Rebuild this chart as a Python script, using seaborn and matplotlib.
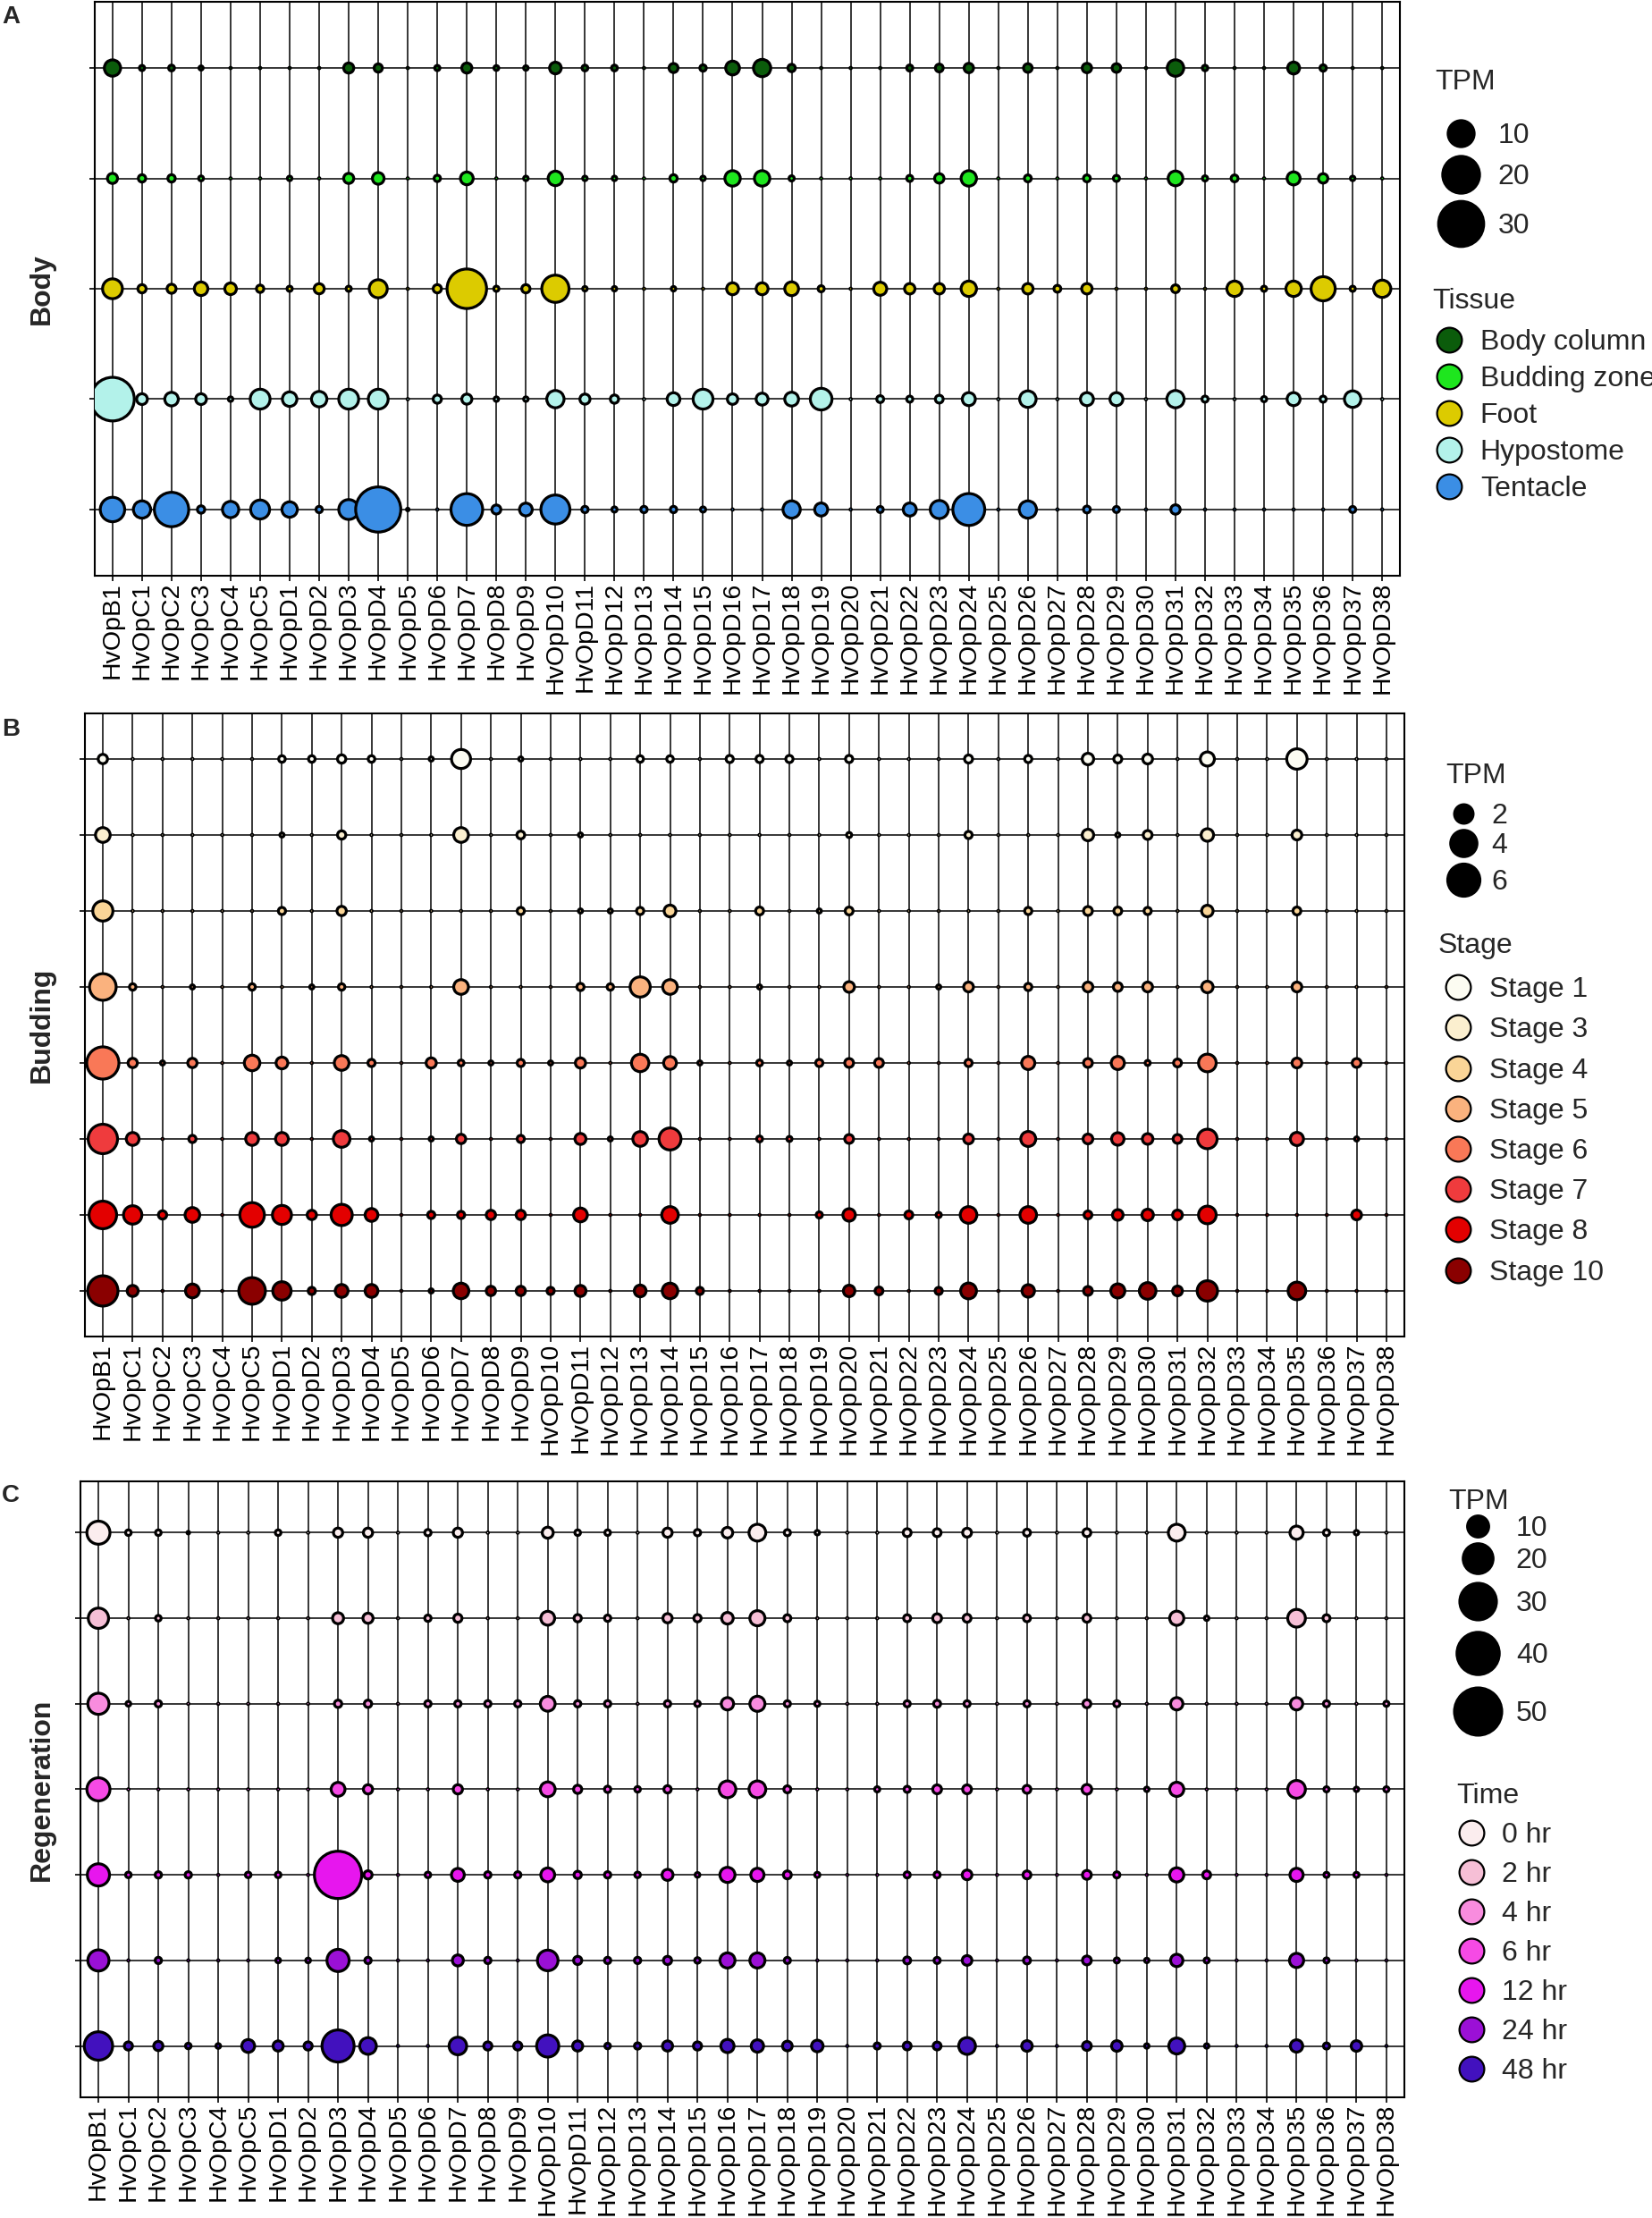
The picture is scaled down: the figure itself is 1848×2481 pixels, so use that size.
import numpy as np
import pandas as pd
import matplotlib
matplotlib.use("Agg")
import matplotlib.pyplot as plt
from matplotlib.lines import Line2D
import seaborn as sns

# ---------------- data ----------------
genes = ["HvOpB1", "HvOpC1", "HvOpC2", "HvOpC3", "HvOpC4", "HvOpC5",
         "HvOpD1", "HvOpD2", "HvOpD3", "HvOpD4", "HvOpD5", "HvOpD6", "HvOpD7", "HvOpD8",
         "HvOpD9", "HvOpD10", "HvOpD11", "HvOpD12", "HvOpD13", "HvOpD14", "HvOpD15",
         "HvOpD16", "HvOpD17", "HvOpD18", "HvOpD19", "HvOpD20", "HvOpD21", "HvOpD22",
         "HvOpD23", "HvOpD24", "HvOpD25", "HvOpD26", "HvOpD27", "HvOpD28", "HvOpD29",
         "HvOpD30", "HvOpD31", "HvOpD32", "HvOpD33", "HvOpD34", "HvOpD35", "HvOpD36",
         "HvOpD37", "HvOpD38"]

# Panel A: body tissues (TPM)
tissues = ["Body column", "Budding zone", "Foot", "Hypostome", "Tentacle"]
tissue_colors = ["#0B5C0B", "#1EE61E", "#DCCB00", "#B3F2EA", "#3B8EE5"]
tpm_body_column = [3.9, 0.4, 0.5, 0.25, 0.03, 0.03, 0.03, 0.03, 1.5, 1.0,
                   0.03, 0.4, 1.5, 0.35, 0.3, 2.0, 0.5, 0.5, 0.03, 1.2,
                   0.6, 2.8, 4.4, 0.8, 0.03, 0.03, 0.03, 0.55, 0.9, 1.3,
                   0.03, 1.1, 0.03, 1.3, 1.1, 0.03, 4.0, 0.45, 0.03, 0.03,
                   2.1, 0.6, 0.03, 0.03]
tpm_budding_zone = [1.5, 0.8, 0.8, 0.35, 0.03, 0.03, 0.3, 0.03, 1.5, 2.0,
                    0.03, 0.6, 2.4, 0.03, 0.3, 3.1, 0.3, 0.3, 0.03, 0.8,
                    0.3, 3.5, 3.5, 0.4, 0.03, 0.03, 0.03, 0.55, 1.3, 3.5,
                    0.03, 0.7, 0.03, 0.7, 0.55, 0.03, 3.2, 0.4, 0.7, 0.03,
                    2.5, 1.3, 0.3, 0.03]
tpm_foot = [5.8, 1.0, 1.2, 2.7, 2.0, 0.8, 0.4, 1.5, 0.4, 4.8,
            0.03, 1.0, 23.0, 0.4, 1.0, 10.9, 0.3, 0.3, 0.03, 0.3,
            0.03, 2.1, 2.1, 2.8, 0.55, 0.03, 2.5, 1.6, 1.6, 3.5,
            0.03, 1.6, 0.7, 1.6, 0.03, 0.03, 0.9, 0.03, 3.5, 0.4,
            3.5, 8.6, 0.4, 4.4]
tpm_hypostome = [28.0, 1.7, 2.7, 1.7, 0.3, 5.8, 3.1, 3.5, 5.8, 5.8,
                 0.03, 1.0, 1.5, 0.3, 0.3, 4.4, 1.5, 1.0, 0.03, 2.4,
                 5.8, 1.6, 2.1, 2.8, 6.9, 0.03, 0.7, 0.55, 0.9, 2.5,
                 0.03, 4.0, 0.03, 2.5, 2.5, 0.03, 4.4, 0.55, 0.03, 0.4,
                 2.5, 0.55, 4.0, 0.03]
tpm_tentacle = [8.8, 4.4, 17.4, 0.8, 3.9, 5.3, 3.5, 0.6, 5.8, 32.6,
                0.1, 0.03, 14.8, 1.2, 2.4, 12.4, 0.6, 0.4, 0.6, 0.6,
                0.4, 0.03, 0.03, 4.4, 2.5, 0.03, 0.55, 2.5, 4.8, 15.0,
                0.03, 4.4, 0.03, 0.7, 0.55, 0.03, 1.3, 0.03, 0.03, 0.03,
                0.03, 0.03, 0.55, 0.03]

# Panel B: budding stages (TPM)
stages = ["Stage 1", "Stage 3", "Stage 4", "Stage 5", "Stage 6", "Stage 7", "Stage 8", "Stage 10"]
stage_colors = ["#FCFCF2", "#FBEFCF", "#FAD597", "#FAB27E", "#F97857", "#EF3B3D", "#E30000", "#8A0000"]
tpm_stage1 = [0.5, 0.01, 0.01, 0.01, 0.01, 0.01, 0.25, 0.25, 0.4, 0.25,
              0.01, 0.1, 2.1, 0.01, 0.1, 0.01, 0.01, 0.01, 0.25, 0.25,
              0.01, 0.3, 0.3, 0.3, 0.01, 0.3, 0.01, 0.01, 0.01, 0.37,
              0.01, 0.3, 0.01, 0.76, 0.37, 0.55, 0.01, 1.15, 0.01, 0.01,
              2.4, 0.01, 0.01, 0.01]
tpm_stage3 = [1.25, 0.01, 0.01, 0.01, 0.01, 0.01, 0.1, 0.01, 0.4, 0.01,
              0.01, 0.01, 1.25, 0.01, 0.35, 0.01, 0.1, 0.01, 0.01, 0.01,
              0.01, 0.01, 0.01, 0.01, 0.01, 0.15, 0.01, 0.01, 0.01, 0.3,
              0.01, 0.01, 0.01, 0.76, 0.1, 0.45, 0.01, 0.9, 0.01, 0.01,
              0.55, 0.01, 0.01, 0.01]
tpm_stage4 = [2.35, 0.01, 0.01, 0.01, 0.01, 0.01, 0.3, 0.01, 0.5, 0.01,
              0.01, 0.01, 0.01, 0.01, 0.3, 0.01, 0.1, 0.1, 0.3, 0.8,
              0.01, 0.01, 0.36, 0.01, 0.1, 0.36, 0.01, 0.01, 0.01, 0.01,
              0.01, 0.3, 0.01, 0.45, 0.36, 0.3, 0.01, 0.76, 0.01, 0.01,
              0.36, 0.01, 0.01, 0.01]
tpm_stage5 = [4.1, 0.24, 0.01, 0.1, 0.01, 0.24, 0.01, 0.1, 0.24, 0.01,
              0.01, 0.01, 1.25, 0.01, 0.01, 0.01, 0.3, 0.24, 2.35, 1.25,
              0.01, 0.01, 0.1, 0.01, 0.01, 0.65, 0.01, 0.01, 0.1, 0.55,
              0.01, 0.3, 0.01, 0.55, 0.45, 0.55, 0.01, 0.76, 0.01, 0.01,
              0.55, 0.01, 0.01, 0.01]
tpm_stage6 = [6.3, 0.5, 0.1, 0.5, 0.01, 1.4, 0.8, 0.01, 1.25, 0.3,
              0.01, 0.6, 0.2, 0.1, 0.3, 0.1, 0.6, 0.01, 1.75, 0.95,
              0.1, 0.01, 0.2, 0.1, 0.3, 0.45, 0.45, 0.01, 0.01, 0.3,
              0.01, 1.0, 0.01, 0.45, 1.0, 0.15, 0.36, 1.8, 0.01, 0.01,
              0.55, 0.01, 0.45, 0.01]
tpm_stage7 = [5.0, 0.95, 0.01, 0.3, 0.01, 0.95, 0.95, 0.01, 1.6, 0.1,
              0.01, 0.1, 0.5, 0.01, 0.3, 0.01, 0.7, 0.1, 1.25, 2.8,
              0.01, 0.01, 0.2, 0.15, 0.01, 0.45, 0.01, 0.01, 0.01, 0.55,
              0.01, 1.3, 0.01, 0.55, 0.9, 0.65, 0.45, 2.2, 0.01, 0.01,
              1.0, 0.01, 0.1, 0.01]
tpm_stage8 = [4.4, 1.95, 0.4, 1.25, 0.01, 3.5, 2.1, 0.5, 2.6, 0.95,
              0.01, 0.3, 0.3, 0.5, 0.5, 0.01, 1.1, 0.01, 0.01, 1.6,
              0.01, 0.01, 0.01, 0.01, 0.22, 0.9, 0.01, 0.36, 0.16, 1.6,
              0.01, 1.6, 0.01, 0.36, 0.65, 0.76, 0.55, 1.8, 0.01, 0.01,
              0.01, 0.01, 0.55, 0.01]
tpm_stage10 = [5.3, 0.7, 0.01, 1.1, 0.01, 4.1, 1.95, 0.3, 0.95, 0.95,
               0.01, 0.1, 1.4, 0.5, 0.5, 0.3, 0.7, 0.01, 0.8, 1.4,
               0.3, 0.01, 0.01, 0.01, 0.01, 0.76, 0.36, 0.01, 0.3, 1.45,
               0.01, 0.9, 0.01, 0.45, 1.15, 1.6, 0.55, 2.4, 0.01, 0.01,
               1.8, 0.01, 0.01, 0.01]

# Panel C: regeneration time course (TPM)
times = ["0 hr", "2 hr", "4 hr", "6 hr", "12 hr", "24 hr", "48 hr"]
time_colors = ["#FBEDEE", "#F6BFD6", "#F88CDE", "#F64AE5", "#E716EE", "#9B10D6", "#4211BE"]
tpm_0hr = [11.9, 0.7, 0.7, 0.15, 0.04, 0.04, 0.7, 0.04, 1.9, 1.9,
           0.04, 0.9, 1.9, 0.04, 0.04, 2.7, 0.7, 0.7, 0.04, 1.9,
           0.9, 2.5, 6.3, 0.85, 0.45, 0.04, 0.04, 1.4, 1.4, 1.75,
           0.04, 1.1, 0.04, 1.4, 0.04, 0.04, 6.3, 0.04, 0.04, 0.04,
           3.9, 0.85, 0.45, 0.04]
tpm_2hr = [9.2, 0.04, 0.7, 0.04, 0.04, 0.04, 0.04, 0.04, 2.7, 2.3,
           0.04, 0.9, 1.5, 0.04, 0.04, 4.3, 1.2, 0.9, 0.04, 1.9,
           1.2, 3.0, 5.1, 1.1, 0.04, 0.04, 0.04, 1.1, 1.75, 1.4,
           0.04, 1.1, 0.04, 1.4, 0.04, 0.04, 4.5, 0.45, 0.04, 0.04,
           7.0, 1.1, 0.04, 0.04]
tpm_4hr = [10.0, 0.5, 0.9, 0.04, 0.04, 0.04, 0.04, 0.04, 1.2, 1.2,
           0.04, 0.9, 0.9, 0.9, 0.9, 4.9, 0.9, 0.9, 0.04, 0.9,
           0.7, 3.4, 5.1, 0.85, 0.6, 0.04, 0.04, 0.85, 1.1, 0.85,
           0.04, 0.85, 0.04, 1.4, 0.85, 0.04, 3.4, 0.04, 0.04, 0.04,
           3.4, 0.85, 0.04, 0.6]
tpm_6hr = [11.9, 0.04, 0.04, 0.04, 0.04, 0.04, 0.04, 0.04, 4.3, 1.9,
           0.04, 0.04, 1.9, 0.04, 0.04, 4.9, 1.5, 0.9, 0.7, 1.2,
           0.04, 6.3, 6.3, 1.1, 0.04, 0.04, 0.6, 0.85, 1.75, 1.75,
           0.04, 1.4, 0.04, 2.1, 0.04, 0.45, 4.5, 0.04, 0.04, 0.04,
           7.0, 0.6, 0.45, 0.6]
tpm_12hr = [11.0, 0.7, 0.9, 0.9, 0.04, 0.7, 0.7, 0.04, 55.0, 1.5,
            0.04, 0.7, 3.7, 0.9, 0.9, 4.3, 1.2, 0.9, 0.7, 2.7,
            0.5, 5.1, 3.9, 1.4, 0.6, 0.04, 0.04, 0.85, 0.85, 2.1,
            0.04, 1.4, 0.04, 1.75, 0.85, 0.04, 4.5, 1.4, 0.04, 0.04,
            3.9, 0.6, 0.6, 0.04]
tpm_24hr = [10.0, 0.04, 0.9, 0.04, 0.04, 0.04, 0.5, 0.5, 11.0, 0.9,
            0.04, 0.04, 2.7, 0.9, 0.04, 9.5, 1.5, 0.9, 0.9, 1.5,
            0.7, 5.1, 5.1, 0.85, 0.04, 0.04, 0.04, 1.1, 0.85, 2.1,
            0.04, 1.1, 0.04, 1.75, 0.6, 0.45, 3.4, 0.6, 0.04, 0.04,
            4.5, 0.6, 0.04, 0.04]
tpm_48hr = [18.0, 1.5, 1.9, 0.7, 0.5, 3.7, 2.3, 1.5, 23.0, 6.2,
            0.04, 0.04, 6.9, 1.5, 1.5, 11.0, 2.3, 0.7, 0.9, 2.3,
            1.5, 3.9, 3.4, 2.1, 3.0, 0.04, 0.85, 1.4, 1.4, 6.3,
            0.04, 2.5, 0.04, 1.75, 2.5, 0.45, 5.7, 0.45, 0.04, 0.04,
            3.4, 0.85, 2.5, 0.04]

body_legend_tpm = [10, 20, 30]
budding_legend_tpm = [2, 4, 6]
regen_legend_tpm = [10, 20, 30, 40, 50]

# ---------------- style ----------------
sns.set_style("white")
plt.rcParams["font.family"] = ["Liberation Sans", "DejaVu Sans"]

W, H = 1849, 2481
DPI = 100
FS = 23
FS_PX = FS * DPI / 72.0
EDGE = 2.3

fig = plt.figure(figsize=(W / DPI, H / DPI), dpi=DPI)


def add_ax(l, t, r, b):
    return fig.add_axes([l / W, 1 - b / H, (r - l) / W, (b - t) / H])


def long_df(rows, series):
    recs = []
    for r, vals in zip(rows, series):
        for g, v in zip(genes, vals):
            recs.append((g, r, v))
    df = pd.DataFrame(recs, columns=["gene", "group", "tpm"])
    df["gene"] = pd.Categorical(df["gene"], categories=genes)
    df["group"] = pd.Categorical(df["group"], categories=rows)
    return df


def draw_panel(ax, rows, series, colors, k, vmax, ylabel):
    df = long_df(rows, series)
    pal = dict(zip(rows, colors))
    sns.scatterplot(data=df, x="gene", y="group", hue="group", size="tpm",
                    palette=pal, hue_order=rows, sizes=(0, k * vmax), size_norm=(0, vmax),
                    edgecolor="black", linewidth=EDGE, legend=False, ax=ax, zorder=3)
    n = len(rows)
    ax.set_xlim(-0.6, len(genes) - 1 + 0.6)
    ax.set_ylim(n - 1 + 0.6, -0.6)
    ax.set_axisbelow(True)
    ax.grid(True, color="black", linewidth=1.1)
    ax.set_xlabel("")
    ax.set_ylabel("")
    ax.tick_params(axis="x", bottom=True, rotation=90, labelsize=20.5, length=4,
                   width=1.2, pad=1, colors="black")
    ax.tick_params(axis="y", left=True, labelleft=False, length=4, width=1.2, colors="black")
    for s in ax.spines.values():
        s.set_visible(True)
        s.set_color("black")
        s.set_linewidth(1.5)
    pos = ax.get_position()
    fig.text(47 / W, pos.y0 + pos.height / 2, ylabel, rotation=90, ha="center", va="center",
             fontsize=23, fontweight="bold")


def legend_entry(handle, label, xc, yc, hl, pad):
    x_left = xc - hl * FS_PX / 2
    leg = fig.legend([handle], [label], loc="center left",
                     bbox_to_anchor=(x_left / W, 1 - yc / H), bbox_transform=fig.transFigure,
                     frameon=False, fontsize=FS, borderpad=0, borderaxespad=0,
                     handlelength=hl, handletextpad=pad, numpoints=1, markerscale=1)
    return leg


def legend_title(text, x, y):
    fig.text(x / W, 1 - y / H, text, fontsize=FS, ha="left", va="center")


def size_legend(values, k, title_xy, xc, ys, pad):
    legend_title("TPM", *title_xy)
    for v, y in zip(values, ys):
        h = Line2D([], [], ls="none", marker="o", markersize=np.sqrt(k * v),
                   markerfacecolor="black", markeredgecolor="black", markeredgewidth=EDGE)
        legend_entry(h, str(v), xc, y, 1.4, pad)


def color_legend(title, labels, colors, title_xy, xc, ys, pad, ms=20):
    legend_title(title, *title_xy)
    for lab, c, y in zip(labels, colors, ys):
        h = Line2D([], [], ls="none", marker="o", markersize=ms,
                   markerfacecolor=c, markeredgecolor="black", markeredgewidth=1.6)
        legend_entry(h, lab, xc, y, 1.4, pad)


# ---------------- Panel A ----------------
KA, KB, KC = 44.0, 112.0, 29.0
axA = add_ax(106, 2, 1566, 644)
draw_panel(axA, tissues,
           [tpm_body_column, tpm_budding_zone, tpm_foot, tpm_hypostome, tpm_tentacle],
           tissue_colors, KA, 30, "Body")
size_legend(body_legend_tpm, KA, (1605, 92), 1634, [152, 198, 253], 0.61)
color_legend("Tissue", tissues, tissue_colors, (1602, 337), 1621,
             [383, 424, 465, 506, 547], 0.39)

# ---------------- Panel B ----------------
axB = add_ax(95, 798, 1571, 1495)
draw_panel(axB, stages,
           [tpm_stage1, tpm_stage3, tpm_stage4, tpm_stage5, tpm_stage6, tpm_stage7,
            tpm_stage8, tpm_stage10],
           stage_colors, KB, 6, "Budding")
size_legend(budding_legend_tpm, KB, (1617, 868), 1637, [913, 946, 987], 0.27)
color_legend("Stage", stages, stage_colors, (1609, 1058), 1631,
             [1107, 1152, 1198, 1243, 1288, 1333, 1378, 1424], 0.39)

# ---------------- Panel C ----------------
axC = add_ax(90, 1657, 1571, 2346)
draw_panel(axC, times,
           [tpm_0hr, tpm_2hr, tpm_4hr, tpm_6hr, tpm_12hr, tpm_24hr, tpm_48hr],
           time_colors, KC, 50, "Regeneration")
size_legend(regen_legend_tpm, KC, (1620, 1680), 1653, [1710, 1746, 1794, 1852, 1917], 0.64)
color_legend("Time", times, time_colors, (1629, 2009), 1646,
             [2053, 2097, 2141, 2185, 2229, 2273, 2317], 0.36)

# panel letters
for letter, y in [("A", 19), ("B", 816), ("C", 1673)]:
    fig.text(2 / W, 1 - y / H, letter, fontsize=20, fontweight="bold", ha="left", va="center")

fig.savefig("out.png", dpi=DPI)
